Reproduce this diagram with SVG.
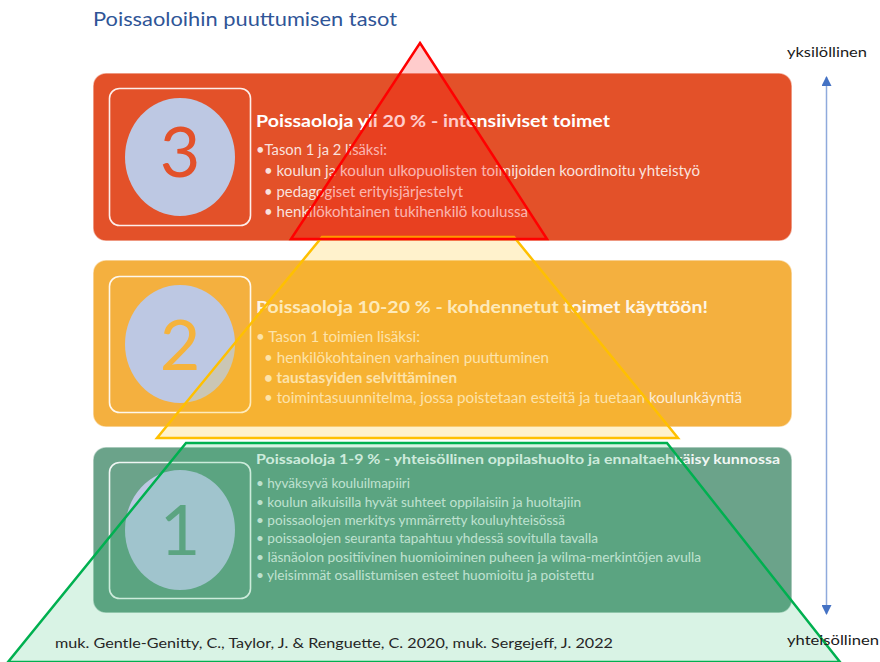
<svg xmlns="http://www.w3.org/2000/svg" width="880" height="662" viewBox="0 0 880 662">
<style>
text{font-family:Lato,"Open Sans","Liberation Sans",sans-serif}
.box{stroke:#ffffff;stroke-opacity:0.55;stroke-width:1.5}
.inner{fill:none;stroke:#ffffff;stroke-width:1.6;stroke-opacity:0.9}
.circ{fill:#BDC8E3}
.num{font-size:70px;text-anchor:middle}
.t3{font-size:17px;font-weight:bold;fill:#ffffff}
.b3{font-size:14.5px;fill:#ffffff;fill-opacity:0.85}
.b2{font-size:14.5px;fill:#ffffff;fill-opacity:0.78}
.t1{font-size:14px;font-weight:bold;fill:#ffffff;fill-opacity:0.93}
.b1{font-size:12.5px;fill:#ffffff;fill-opacity:0.8}
.lbl{font-size:14px;fill:#1a1a1a}
</style>
<defs>
<marker id="ah" viewBox="0 0 10 10" refX="9" refY="5" markerWidth="10" markerHeight="10" markerUnits="userSpaceOnUse" orient="auto-start-reverse">
<path d="M0,0 L10,5 L0,10 Z" fill="#4472C4"/>
</marker>
</defs>
<rect width="880" height="662" fill="#ffffff"/>
<text id="title" x="93" y="26" font-size="20" fill="#2F5597" textLength="304" lengthAdjust="spacingAndGlyphs">Poissaoloihin puuttumisen tasot</text>

<g id="level3">
<rect class="box" x="93" y="73" width="699" height="168" rx="13" fill="#E35129"/>
<rect class="inner" x="109.5" y="88.5" width="141" height="137" rx="10"/>
<ellipse class="circ" cx="180" cy="157" rx="55" ry="59"/>
<text class="num" x="180" y="177" fill="#E35129">3</text>
<text class="t3" x="256" y="127" textLength="354" lengthAdjust="spacingAndGlyphs">Poissaoloja yli 20 % - intensiiviset toimet</text>
<text class="b3" x="256" y="155" textLength="131" lengthAdjust="spacingAndGlyphs">•Tason 1 ja 2 lisäksi:</text>
<text class="b3" x="264" y="176" textLength="436" lengthAdjust="spacingAndGlyphs">• koulun ja koulun ulkopuolisten toimijoiden koordinoitu yhteistyö</text>
<text class="b3" x="264" y="197" textLength="199" lengthAdjust="spacingAndGlyphs">• pedagogiset erityisjärjestelyt</text>
<text class="b3" x="264" y="217" textLength="264" lengthAdjust="spacingAndGlyphs">• henkilökohtainen tukihenkilö koulussa</text>
</g>

<g id="level2">
<rect class="box" x="93" y="260" width="699" height="167" rx="13" fill="#F4B03F"/>
<rect class="inner" x="109.5" y="276.5" width="141" height="136" rx="10"/>
<ellipse class="circ" cx="180" cy="344" rx="55" ry="59"/>
<text class="num" x="180" y="370" fill="#F5B33C">2</text>
<text class="t3" x="256" y="313" fill-opacity="0.9" textLength="452" lengthAdjust="spacingAndGlyphs">Poissaoloja 10-20 % - kohdennetut toimet käyttöön!</text>
<text class="b2" x="256" y="342" textLength="164" lengthAdjust="spacingAndGlyphs">• Tason 1 toimien lisäksi:</text>
<text class="b2" x="264" y="363" textLength="285" lengthAdjust="spacingAndGlyphs">• henkilökohtainen varhainen puuttuminen</text>
<text class="b2" x="264" y="383" font-weight="bold" fill-opacity="0.9" textLength="193" lengthAdjust="spacingAndGlyphs">• taustasyiden selvittäminen</text>
<text class="b2" x="264" y="403" textLength="478" lengthAdjust="spacingAndGlyphs">• toimintasuunnitelma, jossa poistetaan esteitä ja tuetaan koulunkäyntiä</text>
</g>

<g id="level1">
<rect class="box" x="93" y="447" width="699" height="166" rx="13" fill="#6BA38A"/>
<rect class="inner" x="109.5" y="462.5" width="141" height="136" rx="10"/>
<ellipse class="circ" cx="180" cy="530" rx="55" ry="60"/>
<text class="num" x="180" y="555" fill="#6BA38A">1</text>
<text class="t1" x="256" y="464" textLength="524" lengthAdjust="spacingAndGlyphs">Poissaoloja 1-9 % - yhteisöllinen oppilashuolto ja ennaltaehkäisy kunnossa</text>
<text class="b1" x="256" y="488" textLength="154" lengthAdjust="spacingAndGlyphs">• hyväksyvä kouluilmapiiri</text>
<text class="b1" x="256" y="507" textLength="325" lengthAdjust="spacingAndGlyphs">• koulun aikuisilla hyvät suhteet oppilaisiin ja huoltajiin</text>
<text class="b1" x="256" y="525" textLength="309" lengthAdjust="spacingAndGlyphs">• poissaolojen merkitys ymmärretty kouluyhteisössä</text>
<text class="b1" x="256" y="543" textLength="342" lengthAdjust="spacingAndGlyphs">• poissaolojen seuranta tapahtuu yhdessä sovitulla tavalla</text>
<text class="b1" x="256" y="562" textLength="445" lengthAdjust="spacingAndGlyphs">• läsnäolon positiivinen huomioiminen puheen ja wilma-merkintöjen avulla</text>
<text class="b1" x="256" y="580" textLength="338" lengthAdjust="spacingAndGlyphs">• yleisimmät osallistumisen esteet huomioitu ja poistettu</text>
</g>

<g id="pyramid-green">
<polygon points="186,443 667,443 840,662 8,662" fill="#00B050" fill-opacity="0.15" stroke="#00B050" stroke-width="2.5" stroke-linejoin="miter"/>
</g>
<g id="pyramid-yellow">
<polygon points="322,237 514,237 678,438 157,438" fill="#FFC000" fill-opacity="0.2" stroke="#FFC000" stroke-width="2.5"/>
</g>
<g id="pyramid-red">
<polygon points="420,43 547,239 291,239" fill="#FF0000" fill-opacity="0.2" stroke="#FF0000" stroke-width="2.5"/>
</g>

<g id="connectors">
<line x1="826.5" y1="77" x2="826.5" y2="614" stroke="#8FAADC" stroke-width="1.5" marker-start="url(#ah)" marker-end="url(#ah)"/>
</g>
<g id="labels">
<text class="lbl" x="787" y="57" textLength="80" lengthAdjust="spacingAndGlyphs">yksilöllinen</text>
<text class="lbl" x="787" y="645" textLength="92" lengthAdjust="spacingAndGlyphs">yhteisöllinen</text>
<text id="citation" x="55" y="648" font-size="13" fill="#262626" textLength="558" lengthAdjust="spacingAndGlyphs">muk. Gentle-Genitty, C., Taylor, J. &amp; Renguette, C. 2020, muk. Sergejeff, J. 2022</text>
</g>
</svg>
